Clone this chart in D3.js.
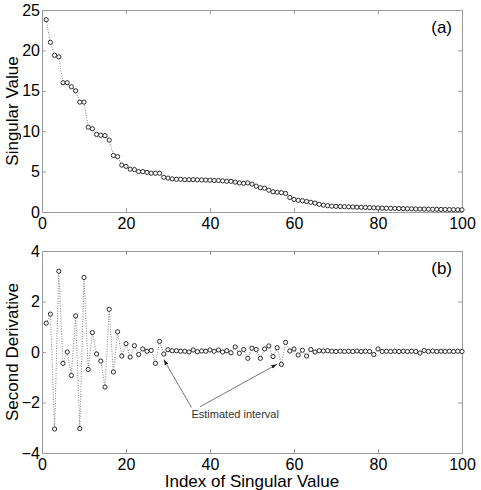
<!DOCTYPE html>
<html>
<head>
<meta charset="utf-8">
<style>
body { margin: 0; background: #fff; }
svg { font-family: "Liberation Sans", Arial, sans-serif; }
.axis path, .axis line { stroke: #9a9a9a; }
.axis text { font-size: 16px; fill: #000; }
.title { font-size: 17px; fill: #000; text-anchor: middle; }
.tag { font-size: 17px; fill: #000; text-anchor: end; }
.link { fill: none; stroke: #808080; stroke-width: 1; stroke-dasharray: 1,1.5; }
.dot { fill: #fff; stroke: #2a2a2a; stroke-width: 1; }
.note { font-size: 11px; fill: #333; text-anchor: middle; }
.arrow { stroke: #555; stroke-width: 0.8; fill: none; }
</style>
<script src="https://cdnjs.cloudflare.com/ajax/libs/d3/7.8.5/d3.min.js"></script>
</head>
<body>
<svg width="481" height="490"></svg>
<script>
// singular values, index 1..100
var singular = [
  23.8, 21.0, 19.4, 19.2, 16.0, 16.0, 15.5, 15.0, 13.6, 13.6,
  10.5, 10.3, 9.6, 9.5, 9.45, 8.9, 7.0, 6.85, 5.8, 5.65,
  5.3, 5.25, 5.0, 5.0, 4.9, 4.8, 4.8, 4.8, 4.3, 4.2,
  4.1, 4.05, 4.05, 4.0, 4.0, 4.0, 3.98, 3.97, 3.95, 3.93,
  3.9, 3.9, 3.85, 3.8, 3.8, 3.7, 3.6, 3.55, 3.6, 3.45,
  3.2, 3.0, 2.95, 2.7, 2.5, 2.45, 2.4, 2.3, 1.8, 1.55,
  1.45, 1.4, 1.3, 1.2, 1.1, 0.95, 0.85, 0.78, 0.72, 0.7,
  0.68, 0.66, 0.64, 0.62, 0.6, 0.58, 0.56, 0.54, 0.52, 0.5,
  0.48, 0.47, 0.46, 0.44, 0.43, 0.42, 0.4, 0.39, 0.38, 0.37,
  0.36, 0.35, 0.34, 0.33, 0.32, 0.31, 0.3, 0.29, 0.28, 0.27
];
// second derivative, index 1..100
var second = [
  1.14, 1.5, -3.05, 3.2, -0.45, 0.0, -0.93, 1.43, -3.03, 2.95,
  -0.69, 0.77, -0.08, -0.36, -1.39, 1.69, -0.79, 0.8, -0.16, 0.33,
  -0.2, 0.25, -0.1, 0.12, 0.03, 0.06, -0.45, 0.42, -0.08, 0.09,
  0.05, 0.05, 0.03, 0.03, 0.0, 0.08, 0.01, 0.04, 0.03, 0.08,
  0.03, 0.08, 0.0, 0.05, -0.03, 0.2, -0.05, 0.1, -0.25, 0.15,
  0.1, -0.25, 0.12, 0.24, -0.18, 0.17, -0.49, 0.38, 0.04, 0.12,
  -0.12, 0.07, -0.16, 0.1, 0.0, 0.05, 0.04, 0.05, 0.03, 0.02,
  0.03, 0.02, 0.03, 0.02, 0.04, 0.02, 0.03, 0.02, -0.1, 0.12,
  0.02, 0.03, 0.02, 0.03, 0.02, 0.03, 0.02, 0.03, 0.02, -0.04,
  0.06, 0.02, 0.04, 0.02, 0.03, 0.02, 0.03, 0.02, 0.03, 0.02
];
var xTicks = [0, 20, 40, 60, 80, 100];
var yTicksA = [0, 5, 10, 15, 20, 25];
var yTicksB = [-4, -2, 0, 2, 4];

// annotation (data coordinates of bottom panel)
var noteText = "Estimated interval";
var notePos = [46, -2.46];
var arrows = [
  { from: [35.6, -2.2], to: [29.0, -0.3] },
  { from: [37.6, -2.17], to: [55.9, -0.49] }
];

var svg = d3.select("svg");
var left = 42, right = 462;

svg.append("defs").append("marker")
  .attr("id", "head")
  .attr("viewBox", "0 0 10 10")
  .attr("refX", 10).attr("refY", 5)
  .attr("markerWidth", 7).attr("markerHeight", 7)
  .attr("orient", "auto")
  .append("path")
  .attr("d", "M0,1.5L10,5L0,8.5z")
  .attr("fill", "#222");

function panel(top, bottom, values, yDomain, yTicks, tag, yTitle, xTitle) {
  var x = d3.scaleLinear().domain([0, 100]).range([left, right]);
  var y = d3.scaleLinear().domain(yDomain).range([bottom, top]);
  var g = svg.append("g");

  g.append("g").attr("class", "axis")
    .attr("transform", `translate(0,${bottom})`)
    .call(d3.axisBottom(x).tickValues(xTicks).tickSizeInner(-4).tickSizeOuter(0).tickPadding(6));
  g.append("g").attr("class", "axis")
    .attr("transform", `translate(0,${top})`)
    .call(d3.axisTop(x).tickValues(xTicks).tickSizeInner(-4).tickSizeOuter(0).tickFormat(""));
  g.append("g").attr("class", "axis")
    .attr("transform", `translate(${left},0)`)
    .call(d3.axisLeft(y).tickValues(yTicks).tickSizeInner(-4).tickSizeOuter(0).tickPadding(2));
  g.append("g").attr("class", "axis")
    .attr("transform", `translate(${right},0)`)
    .call(d3.axisRight(y).tickValues(yTicks).tickSizeInner(-4).tickSizeOuter(0).tickFormat(""));

  var pts = values.map(function (v, i) { return [i + 1, v]; });
  g.append("path")
    .datum(pts)
    .attr("class", "link")
    .attr("d", d3.line().x(function (d) { return x(d[0]); }).y(function (d) { return y(d[1]); }));
  g.selectAll(".dot")
    .data(pts)
    .enter().append("circle")
    .attr("class", "dot")
    .attr("cx", function (d) { return x(d[0]); })
    .attr("cy", function (d) { return y(d[1]); })
    .attr("r", 2.1);

  g.append("text").attr("class", "tag")
    .attr("x", right - 10).attr("y", top + 23)
    .text(tag);
  g.append("text").attr("class", "title")
    .attr("transform", "rotate(-90)")
    .attr("x", -(top + bottom) / 2).attr("y", 18)
    .text(yTitle);
  if (xTitle) {
    g.append("text").attr("class", "title")
      .attr("x", (left + right) / 2).attr("y", bottom + 34)
      .text(xTitle);
  }
  return { g: g, x: x, y: y };
}

panel(10, 212, singular, [0, 25], yTicksA, "(a)", "Singular Value", null);
var pb = panel(251, 453, second, [-4, 4], yTicksB, "(b)", "Second Derivative", "Index of Singular Value");

pb.g.selectAll(".arrow")
  .data(arrows)
  .enter().append("line")
  .attr("class", "arrow")
  .attr("x1", function (d) { return pb.x(d.from[0]); })
  .attr("y1", function (d) { return pb.y(d.from[1]); })
  .attr("x2", function (d) { return pb.x(d.to[0]); })
  .attr("y2", function (d) { return pb.y(d.to[1]); })
  .attr("marker-end", "url(#head)");
pb.g.append("text").attr("class", "note")
  .attr("x", pb.x(notePos[0]))
  .attr("y", pb.y(notePos[1]))
  .attr("dy", "0.35em")
  .text(noteText);
</script>
</body>
</html>
